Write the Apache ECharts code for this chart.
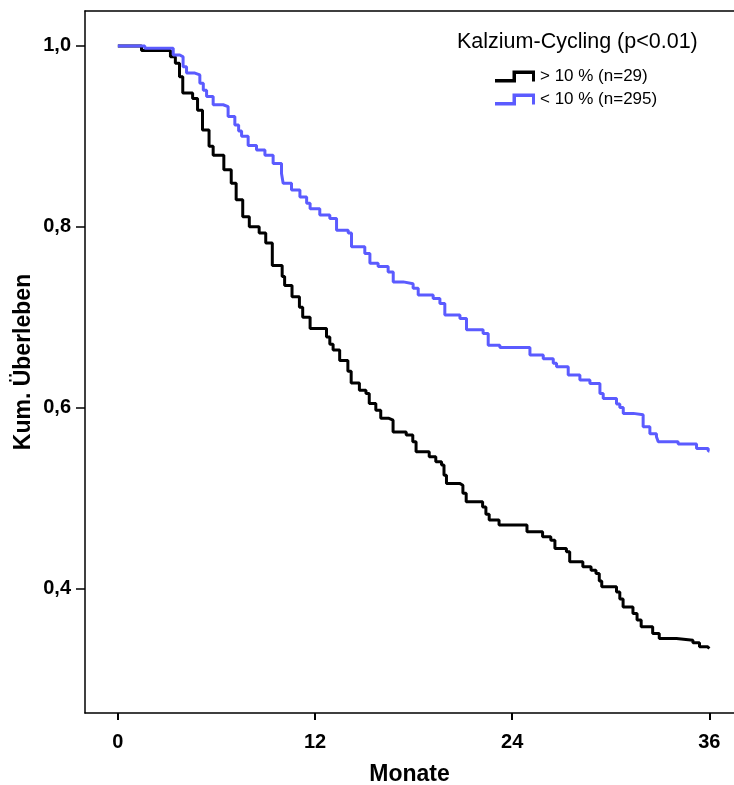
<!DOCTYPE html>
<html>
<head>
<meta charset="utf-8">
<script src="https://cdn.jsdelivr.net/npm/echarts@6/dist/echarts.min.js"></script>
<style>
  html, body { margin: 0; padding: 0; background: #fff; }
  #chart { width: 734px; height: 785px; }
</style>
</head>
<body>
<div id="chart"></div>
<script>
// Kaplan-Meier Daten (Monate / kum. Ueberleben)
var monthTicks = [0, 12, 24, 36];
var survTicks = [0.4, 0.6, 0.8, 1.0];

// > 10 % (n=29)
var timesHigh = [0, 1.44, 3.2, 3.5, 3.75, 3.95, 4.55, 4.85, 5.15, 5.55, 5.8, 6.45, 6.9, 7.2, 7.6, 8.0, 8.6, 9.0, 9.4,
    10.0, 10.15, 10.6, 11.05, 11.25, 11.7, 12.7, 12.9, 13.1, 13.5, 14.0, 14.2, 14.7, 15.1, 15.3, 15.7, 16.0, 16.5,
    16.75, 17.55, 17.95, 18.15, 18.95, 19.35, 19.7, 19.85, 20.0, 20.8, 21.0, 21.2, 22.2, 22.4, 22.6, 23.2, 24.9,
    25.85, 26.35, 26.6, 27.3, 27.5, 28.3, 28.8, 29.1, 29.3, 29.45, 30.35, 30.55, 30.75, 31.35, 31.6, 31.85, 32.55,
    32.95, 34.0, 35.0, 35.4, 35.9, 36.0];
var survHigh = [1.0, 0.995, 0.988, 0.981, 0.966, 0.948, 0.942, 0.929, 0.907, 0.889, 0.879, 0.863, 0.848, 0.830, 0.811,
    0.800, 0.793, 0.782, 0.757, 0.745, 0.735, 0.7225, 0.711, 0.700, 0.6875, 0.678, 0.670, 0.6635, 0.652, 0.640,
    0.627, 0.619, 0.6156, 0.6045, 0.597, 0.588, 0.586, 0.573, 0.5695, 0.562, 0.551, 0.5455, 0.540, 0.5363, 0.525,
    0.516, 0.514, 0.505, 0.4956, 0.490, 0.482, 0.4754, 0.470, 0.4624, 0.457, 0.4532, 0.444, 0.4403, 0.4293,
    0.4237, 0.420, 0.4163, 0.408, 0.4016, 0.396, 0.388, 0.3794, 0.372, 0.365, 0.3573, 0.350, 0.3444, 0.3426,
    0.3396, 0.3352, 0.3334, 0.3334];

// < 10 % (n=295)
var timesLow = [0, 1.64, 3.37, 3.77, 3.97, 4.18, 4.69, 4.99, 5.2, 5.4, 5.8, 6.41, 6.71, 7.12, 7.35, 7.53, 7.93, 8.44,
    8.95, 9.45, 9.96, 10.06, 10.57, 11.08, 11.49, 11.7, 12.29, 12.9, 13.31, 14.02, 14.22, 15.03, 15.34, 15.84,
    16.45, 16.76, 17.37, 17.97, 18.28, 19.19, 19.6, 19.9, 20.82, 21.22, 22.23, 22.54, 23.25, 25.08, 25.89, 26.5,
    26.7, 27.41, 28.12, 28.73, 29.34, 29.54, 30.35, 30.55, 30.76, 31.37, 31.97, 32.38, 32.78, 32.89, 34.1, 35.22,
    35.93, 36.0];
var survLow = [1.0, 0.9975, 0.990, 0.988, 0.977, 0.970, 0.968, 0.9587, 0.951, 0.944, 0.935, 0.933, 0.922, 0.9126,
    0.906, 0.900, 0.890, 0.885, 0.879, 0.870, 0.859, 0.848, 0.8406, 0.833, 0.826, 0.820, 0.813, 0.809, 0.796,
    0.793, 0.778, 0.7705, 0.7595, 0.756, 0.750, 0.739, 0.737, 0.732, 0.7244, 0.7207, 0.715, 0.7023, 0.6986,
    0.686, 0.682, 0.669, 0.6665, 0.658, 0.654, 0.649, 0.645, 0.636, 0.6303, 0.6267, 0.6156, 0.610, 0.604, 0.600,
    0.5935, 0.592, 0.5786, 0.571, 0.5676, 0.562, 0.5595, 0.5547, 0.552, 0.552];

var seriesNames = ['> 10 % (n=29)', '< 10 % (n=295)'];
var seriesColors = ['#000000', '#5b5bff'];

function toPairs(xs, ys) {
    var out = [];
    for (var i = 0; i < xs.length; i++) {
        out.push([xs[i], ys[i]]);
    }
    return out;
}

// Stufen-Symbol fuer die Legende
var stepIcon = 'path://M0,8.5 L17.5,8.5 L17.5,0 L40,0 L40,11 L37,11 L37,3.5 L21,3.5 L21,12 L0,12 Z';

var fontName = 'Liberation Sans, Arial, sans-serif';

var myChart = echarts.init(document.getElementById('chart'), null, { renderer: 'canvas' });
var option = {
    animation: false,
    backgroundColor: '#fff',
    title: {
        text: 'Kalzium-Cycling (p<0.01)',
        left: 457,
        top: 31,
        padding: 0,
        textStyle: {
            fontFamily: fontName,
            fontWeight: 'normal',
            fontSize: 21.5,
            color: '#000'
        }
    },
    legend: {
        orient: 'vertical',
        left: 495,
        top: 68,
        padding: 0,
        itemGap: 6,
        itemWidth: 40,
        itemHeight: 12,
        data: [
            { name: seriesNames[0], icon: stepIcon },
            { name: seriesNames[1], icon: stepIcon }
        ],
        textStyle: {
            fontFamily: fontName,
            fontSize: 17,
            color: '#000'
        }
    },
    grid: {
        left: 85,
        top: 11,
        right: 0,
        bottom: 72,
        outerBoundsMode: 'none',
        show: false
    },
    xAxis: [
        {
            type: 'value',
            min: -2,
            max: 37.5,
            name: 'Monate',
            nameLocation: 'middle',
            nameGap: 50,
            nameMoveOverlap: false,
            nameTextStyle: {
                fontFamily: fontName,
                fontWeight: 'bold',
                fontSize: 23,
                color: '#000'
            },
            axisLine: { onZero: false, lineStyle: { color: '#000', width: 1.5 } },
            axisTick: { customValues: monthTicks, length: 7, lineStyle: { color: '#000', width: 2 } },
            axisLabel: {
                customValues: monthTicks,
                margin: 19,
                fontFamily: fontName,
                fontWeight: 'bold',
                fontSize: 20,
                color: '#000'
            },
            splitLine: { show: false }
        },
        {
            // obere Rahmenlinie
            type: 'value',
            position: 'top',
            min: -2,
            max: 37.5,
            axisLine: { show: true, onZero: false, lineStyle: { color: '#000', width: 1.5 } },
            axisTick: { show: false },
            axisLabel: { show: false },
            splitLine: { show: false }
        }
    ],
    yAxis: {
        type: 'value',
        min: 0.262,
        max: 1.0387,
        name: 'Kum. Überleben',
        nameLocation: 'middle',
        nameGap: 50,
        nameMoveOverlap: false,
        nameTextStyle: {
            fontFamily: fontName,
            fontWeight: 'bold',
            fontSize: 23,
            color: '#000'
        },
        axisLine: { show: true, onZero: false, lineStyle: { color: '#000', width: 1.5 } },
        axisTick: { show: true, customValues: survTicks, length: 9, lineStyle: { color: '#000', width: 1.5 } },
        axisLabel: {
            customValues: survTicks,
            margin: 14,
            fontFamily: fontName,
            fontWeight: 'bold',
            fontSize: 20,
            color: '#000',
            formatter: function (v) {
                return v.toFixed(1).replace('.', ',');
            }
        },
        splitLine: { show: false }
    },
    series: [
        {
            name: seriesNames[0],
            type: 'line',
            step: 'end',
            showSymbol: false,
            data: toPairs(timesHigh, survHigh),
            lineStyle: { color: seriesColors[0], width: 3 },
            itemStyle: { color: seriesColors[0] },
            z: 3
        },
        {
            name: seriesNames[1],
            type: 'line',
            step: 'end',
            showSymbol: false,
            data: toPairs(timesLow, survLow),
            lineStyle: { color: seriesColors[1], width: 3 },
            itemStyle: { color: seriesColors[1] },
            z: 4
        }
    ]
};
myChart.setOption(option);
window.addEventListener('resize', myChart.resize);
</script>
</body>
</html>
